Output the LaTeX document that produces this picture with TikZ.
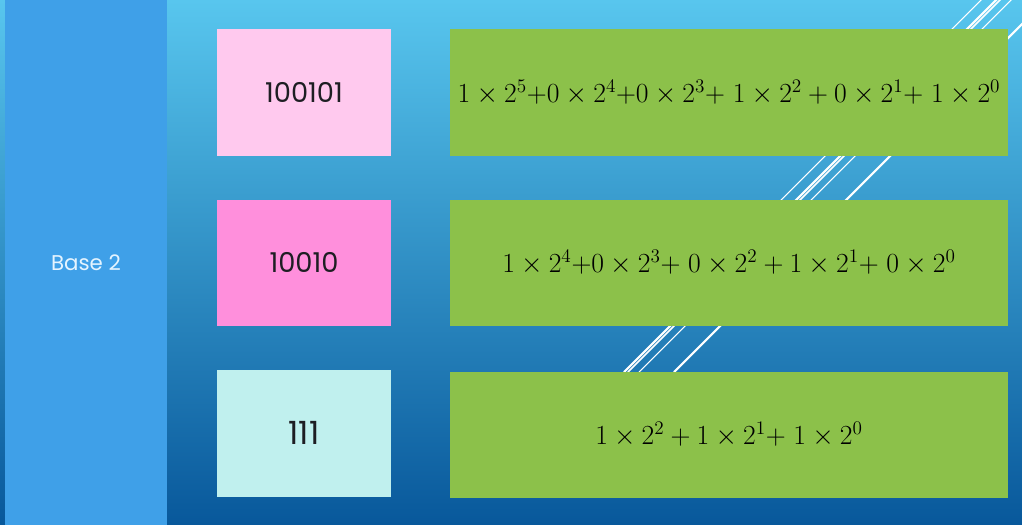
\documentclass[tikz,border=0pt]{standalone}
\usepackage{fontspec}
\newfontfamily\gothic{Poppins}
\usetikzlibrary{matrix,positioning}

\definecolor{bgtop}{RGB}{88,198,238}
\definecolor{bgbot}{RGB}{8,88,155}
\definecolor{sidecol}{RGB}{63,160,232}
\definecolor{pinkA}{RGB}{255,201,238}
\definecolor{pinkB}{RGB}{255,143,220}
\definecolor{mintC}{RGB}{192,240,238}
\definecolor{sumgreen}{RGB}{140,193,74}
\definecolor{digitcol}{RGB}{30,30,35}
\definecolor{labelcol}{RGB}{228,244,255}

\tikzset{
  numbox/.style={minimum width=130.5pt,minimum height=94.9pt,inner sep=0pt,
    font=\gothic\fontsize{20.5}{23}\selectfont,text=digitcol},
  sumbox/.style={fill=sumgreen,minimum width=418.5pt,minimum height=94.9pt,inner sep=0pt,
    font=\fontsize{19.5}{23}\selectfont,text=black},
  streak/.style={white,line cap=round},
}

\begin{document}
\begin{tikzpicture}[x=0.75pt,y=-0.75pt]
  \useasboundingbox (0,0) rectangle (1022,525);
  \clip (0,0) rectangle (1022,525);
  \shade [top color=bgtop,bottom color=bgbot] (0,0) rectangle (1022,525);

  % white streaks behind the boxes
  \foreach \c/\w/\lo in {981/0.8pt/260,996/1.6pt/372,1000/1.3pt/372,1011/0.8pt/372,1046/1.6pt/372}
    \draw [streak,line width=\w] (\c-\lo,\lo) -- (\c+10,-10);

  \node [fill=sidecol,minimum width=121.5pt,minimum height=393.75pt,inner sep=0pt,
    font=\gothic\fontsize{16}{18}\selectfont,text=labelcol] (side) at (86,262.5) {Base 2};

  \matrix [matrix of nodes,ampersand replacement=\&,column sep=44.25pt,row sep=33pt,
    inner sep=0pt,outer sep=0pt,anchor=north west,
    column 1/.style={nodes=numbox},column 2/.style={nodes=sumbox}] (m) at (217,29) {
    |[fill=pinkA]| 100101 \& $1\times 2^{5}{+}0\times 2^{4}{+}0\times 2^{3}{+}\;1\times 2^{2}+0\times 2^{1}{+}\;1\times 2^{0}$ \\
    |[fill=pinkB]| 10010 \& $1\times 2^{4}{+}0\times 2^{3}{+}\;0\times 2^{2}+1\times 2^{1}{+}\;0\times 2^{0}$ \\
    |[fill=mintC,font=\gothic\fontsize{24}{26}\selectfont]| 111 \& $1\times 2^{2}+1\times 2^{1}{+}\;1\times 2^{0}$ \\
  };
\end{tikzpicture}
\end{document}
